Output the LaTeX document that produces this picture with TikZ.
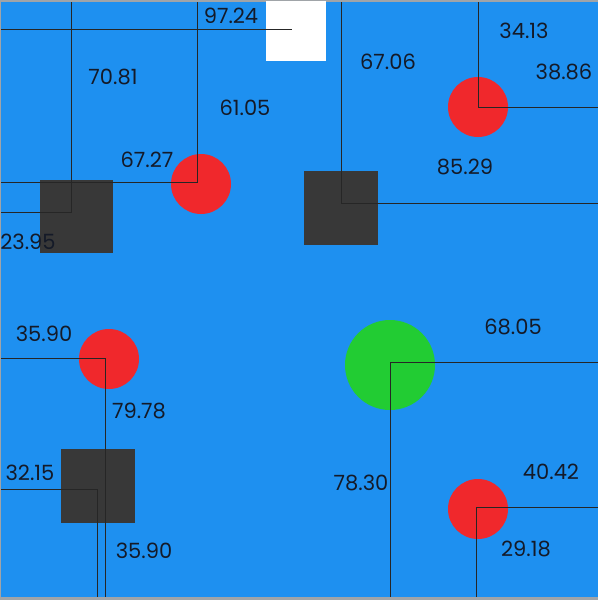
\documentclass[tikz,border=0pt]{standalone}
\usepackage{fontspec}
\setmainfont{Poppins}
\definecolor{bg}{HTML}{1E90F0}
\definecolor{frame}{HTML}{A0A4A8}
\definecolor{redc}{HTML}{F0282C}
\definecolor{greenc}{HTML}{22CC33}
\definecolor{darksq}{HTML}{383838}
\definecolor{linec}{HTML}{262626}
\definecolor{txt}{HTML}{141A28}
\begin{document}
\begin{tikzpicture}[x=1pt,y=-1pt,
  redball/.style={circle,fill=redc,draw=none,minimum size=60pt,inner sep=0pt},
  greenball/.style={circle,fill=greenc,draw=none,minimum size=90pt,inner sep=0pt},
  darkbox/.style={rectangle,fill=darksq,draw=none,minimum size=74pt,inner sep=0pt},
  whitebox/.style={rectangle,fill=white,draw=none,minimum size=60pt,inner sep=0pt},
  guide/.style={draw=linec,line width=0.9pt},
  val/.style={font=\fontsize{21}{21}\selectfont,text=txt,inner sep=0pt}]
\useasboundingbox (0,0) rectangle (598,600);
\fill[frame] (0,0) rectangle (598,600);
\fill[bg] (1,2) rectangle (598,597);
% shapes
\node[whitebox] (B) at (296,31) {};
\node[darkbox,minimum size=73pt] (A) at (76,216) {};
\node[redball] (C) at (201,184) {};
\node[darkbox] (D) at (341,208) {};
\node[redball] (E) at (478,107) {};
\node[redball] (F) at (109,359) {};
\node[darkbox] (G) at (98,486) {};
\node[greenball] (H) at (390,365) {};
\node[redball] (I) at (478,509) {};
% guide coordinates
\coordinate (Aj) at (71,212); \coordinate (At) at (71,2); \coordinate (Al) at (1,212);
\coordinate (Bj) at (292,29); \coordinate (Bl) at (1,29);
\coordinate (Cj) at (197,182); \coordinate (Ct) at (197,2); \coordinate (Cl) at (1,182);
\coordinate (Dj) at (341,203); \coordinate (Dt) at (341,2); \coordinate (Dr) at (598,203);
\coordinate (Ej) at (478,107); \coordinate (Et) at (478,2); \coordinate (Er) at (598,107);
\coordinate (Fj) at (105,358); \coordinate (Fl) at (1,358); \coordinate (Fb) at (105,597);
\coordinate (Gj) at (97,489); \coordinate (Gl) at (1,489); \coordinate (Gb) at (97,597);
\coordinate (Hj) at (390,362); \coordinate (Hr) at (598,362); \coordinate (Hb) at (390,597);
\coordinate (Ij) at (476,507); \coordinate (Ir) at (598,507); \coordinate (Ib) at (476,597);
% guides
\draw[guide] (At) -- (Aj) -- (Al);
\draw[guide] (Bl) -- (Bj);
\draw[guide] (Ct) -- (Cj) -- (Cl);
\draw[guide] (Dt) -- (Dj) -- (Dr);
\draw[guide] (Et) -- (Ej) -- (Er);
\draw[guide] (Fl) -- (Fj) -- (Fb);
\draw[guide] (Gl) -- (Gj) -- (Gb);
\draw[guide] (Hr) -- (Hj) -- (Hb);
\draw[guide] (Ir) -- (Ij) -- (Ib);
% labels
\node[val] (l1) at (231,16) {97.24};
\node[val] (l2) at (113,77) {70.81};
\node[val] (l3) at (245,108) {61.05};
\node[val] (l4) at (147,160) {67.27};
\node[val] (l5) at (28,242) {23.95};
\node[val] (l6) at (388,62) {67.06};
\node[val] (l7) at (524,31) {34.13};
\node[val] (l8) at (564,72) {38.86};
\node[val] (l9) at (465,167) {85.29};
\node[val] (l10) at (44,334) {35.90};
\node[val] (l11) at (139,411) {79.78};
\node[val] (l12) at (30,473) {32.15};
\node[val] (l13) at (144,551) {35.90};
\node[val] (l14) at (513,327) {68.05};
\node[val] (l15) at (361,483) {78.30};
\node[val] (l16) at (551,472) {40.42};
\node[val] (l17) at (526,549) {29.18};
\end{tikzpicture}
\end{document}
